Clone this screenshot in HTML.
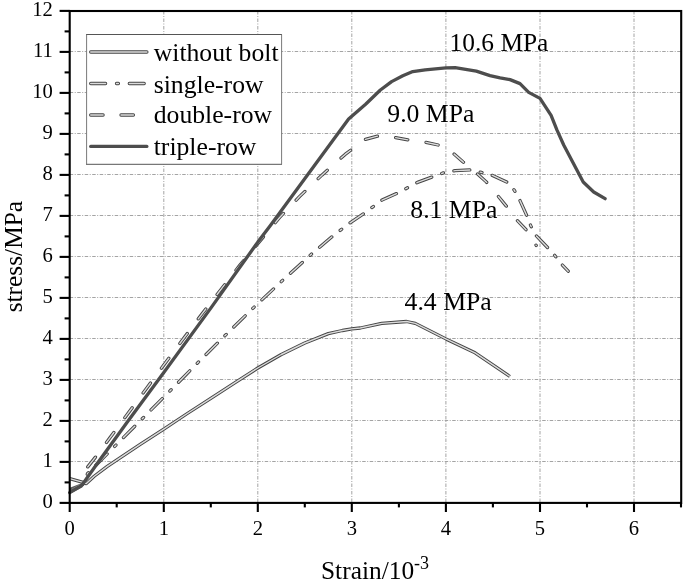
<!DOCTYPE html>
<html><head><meta charset="utf-8"><title>Stress-strain curves</title>
<style>
html,body{margin:0;padding:0;background:#fff;}
svg{display:block;}
text{font-family:"Liberation Serif","Times New Roman",serif;fill:#000;}
.tk{font-size:20.6px;}
.lb{font-size:25.4px;}
</style></head><body>
<svg width="685" height="582" viewBox="0 0 685 582">
<rect x="0" y="0" width="685" height="582" fill="#fff"/>

<g stroke="#a4a4a4" stroke-width="1" stroke-dasharray="3.5 1.5 1 1.5" fill="none">
<line x1="163.8" y1="11.0" x2="163.8" y2="502.9"/>
<line x1="257.8" y1="11.0" x2="257.8" y2="502.9"/>
<line x1="351.8" y1="11.0" x2="351.8" y2="502.9"/>
<line x1="445.9" y1="11.0" x2="445.9" y2="502.9"/>
<line x1="540.0" y1="11.0" x2="540.0" y2="502.9"/>
<line x1="634.0" y1="11.0" x2="634.0" y2="502.9"/>
<line x1="69.7" y1="461.5" x2="681.2" y2="461.5"/>
<line x1="69.7" y1="420.5" x2="681.2" y2="420.5"/>
<line x1="69.7" y1="379.5" x2="681.2" y2="379.5"/>
<line x1="69.7" y1="338.5" x2="681.2" y2="338.5"/>
<line x1="69.7" y1="297.5" x2="681.2" y2="297.5"/>
<line x1="69.7" y1="256.5" x2="681.2" y2="256.5"/>
<line x1="69.7" y1="215.5" x2="681.2" y2="215.5"/>
<line x1="69.7" y1="174.5" x2="681.2" y2="174.5"/>
<line x1="69.7" y1="133.5" x2="681.2" y2="133.5"/>
<line x1="69.7" y1="92.5" x2="681.2" y2="92.5"/>
<line x1="69.7" y1="51.5" x2="681.2" y2="51.5"/>
</g>
<g fill="none" stroke-linejoin="round">
<polygon points="69.7,493.9 69.7,487.7 81.5,483.2 82.4,487.3" fill="#5a5a5a" stroke="none"/>
<path d="M71.6,491.0 L80.5,485.7 M71.6,489.4 L80.0,484.7" stroke="#9a9a9a" stroke-width="0.8"/>
<polyline points="69.7,478.7 83.1,482.4 86.3,483.6 94.2,476.2 107.3,466.4 120.0,457.8 140.2,444.3 163.8,429.1 187.3,413.5 210.8,398.3 234.3,383.2 257.8,368.0 281.3,354.5 304.8,343.0 328.3,333.6 342.4,330.5 351.8,328.9 360.3,328.0 381.7,323.4 406.6,321.5 415.3,323.4 445.9,338.9 475.1,352.8 492.5,364.6 509.9,376.5" stroke="#454545" stroke-width="3.3"/>
<polyline points="69.7,478.7 83.1,482.4 86.3,483.6 94.2,476.2 107.3,466.4 120.0,457.8 140.2,444.3 163.8,429.1 187.3,413.5 210.8,398.3 234.3,383.2 257.8,368.0 281.3,354.5 304.8,343.0 328.3,333.6 342.4,330.5 351.8,328.9 360.3,328.0 381.7,323.4 406.6,321.5 415.3,323.4 445.9,338.9 475.1,352.8 492.5,364.6 509.9,376.5" stroke="#dcdcdc" stroke-width="1.4"/>
<polyline points="82.9,484.4 87.6,473.5 115.4,445.7 170.0,390.9 197.4,363.1 225.4,335.2 253.1,308.1 281.6,281.3 310.6,254.9 331.3,237.3 349.6,223.1 363.8,213.6 382.0,200.1 397.6,193.1 417.5,182.4 433.7,176.4 443.4,172.9 455.1,170.6 471.3,169.9 481.4,172.4 492.5,175.4 507.5,182.4 514.3,190.2 520.0,200.6 527.0,216.1 530.7,225.7 536.2,235.7 547.9,247.9 554.9,255.7 561.7,264.4 568.2,271.2" stroke="#454545" stroke-width="3.3" stroke-linecap="round" stroke-dasharray="16.0 10.58 1.9 10.577" stroke-dashoffset="15.51"/>
<polyline points="82.9,484.4 87.6,473.5 115.4,445.7 170.0,390.9 197.4,363.1 225.4,335.2 253.1,308.1 281.6,281.3 310.6,254.9 331.3,237.3 349.6,223.1 363.8,213.6 382.0,200.1 397.6,193.1 417.5,182.4 433.7,176.4 443.4,172.9 455.1,170.6 471.3,169.9 481.4,172.4 492.5,175.4 507.5,182.4 514.3,190.2 520.0,200.6 527.0,216.1 530.7,225.7 536.2,235.7 547.9,247.9 554.9,255.7 561.7,264.4 568.2,271.2" stroke="#dcdcdc" stroke-width="1.4" stroke-linecap="round" stroke-dasharray="16.0 10.58 1.9 10.577" stroke-dashoffset="15.51"/>
<polyline points="81.9,482.4 86.6,468.3 95.6,457.0 109.7,438.1 146.1,388.9 164.2,364.4 201.7,314.3 239.9,265.1 279.4,217.7 299.5,196.6 322.1,174.9 345.1,154.4 365.0,139.5 379.3,135.7 395.0,137.5 408.8,140.0 425.0,142.1 438.2,145.0 452.7,152.9 463.1,161.9 476.4,172.9 486.3,181.9 497.5,195.4 506.3,206.1 516.2,219.4 526.2,229.9 536.2,245.4" stroke="#454545" stroke-width="3.3" stroke-linecap="round" stroke-dasharray="12.4 18.386" stroke-dashoffset="14.07"/>
<polyline points="81.9,482.4 86.6,468.3 95.6,457.0 109.7,438.1 146.1,388.9 164.2,364.4 201.7,314.3 239.9,265.1 279.4,217.7 299.5,196.6 322.1,174.9 345.1,154.4 365.0,139.5 379.3,135.7 395.0,137.5 408.8,140.0 425.0,142.1 438.2,145.0 452.7,152.9 463.1,161.9 476.4,172.9 486.3,181.9 497.5,195.4 506.3,206.1 516.2,219.4 526.2,229.9 536.2,245.4" stroke="#dcdcdc" stroke-width="1.4" stroke-linecap="round" stroke-dasharray="12.4 18.386" stroke-dashoffset="14.07"/>
<polyline points="69.7,492.6 81.7,485.5 98.5,461.7 128.4,420.5 163.8,372.5 210.8,308.1 257.8,242.1 270.2,225.7 348.6,119.1 365.6,104.2 380.4,90.0 391.6,81.6 402.8,75.8 412.8,71.6 425.2,69.8 445.9,67.9 455.1,67.6 476.3,71.1 490.0,75.6 500.1,77.9 510.0,79.6 520.0,83.6 528.7,92.4 540.0,98.4 551.1,115.4 556.9,129.9 563.7,145.0 583.2,182.0 593.7,192.0 605.1,198.7" stroke="#4d4d4d" stroke-width="3.3" stroke-linecap="round"/>
</g>
<g stroke="#000" stroke-width="2.1" fill="none">
<rect x="69.7" y="11.0" width="611.5" height="491.9"/>
<line x1="59.6" y1="502.9" x2="69.7" y2="502.9"/>
<line x1="59.6" y1="461.9" x2="69.7" y2="461.9"/>
<line x1="59.6" y1="420.9" x2="69.7" y2="420.9"/>
<line x1="59.6" y1="379.9" x2="69.7" y2="379.9"/>
<line x1="59.6" y1="338.9" x2="69.7" y2="338.9"/>
<line x1="59.6" y1="297.9" x2="69.7" y2="297.9"/>
<line x1="59.6" y1="256.9" x2="69.7" y2="256.9"/>
<line x1="59.6" y1="215.9" x2="69.7" y2="215.9"/>
<line x1="59.6" y1="174.9" x2="69.7" y2="174.9"/>
<line x1="59.6" y1="133.9" x2="69.7" y2="133.9"/>
<line x1="59.6" y1="92.9" x2="69.7" y2="92.9"/>
<line x1="59.6" y1="51.9" x2="69.7" y2="51.9"/>
<line x1="59.6" y1="10.9" x2="69.7" y2="10.9"/>
<line x1="64.6" y1="482.4" x2="69.7" y2="482.4"/>
<line x1="64.6" y1="441.4" x2="69.7" y2="441.4"/>
<line x1="64.6" y1="400.4" x2="69.7" y2="400.4"/>
<line x1="64.6" y1="359.4" x2="69.7" y2="359.4"/>
<line x1="64.6" y1="318.4" x2="69.7" y2="318.4"/>
<line x1="64.6" y1="277.4" x2="69.7" y2="277.4"/>
<line x1="64.6" y1="236.4" x2="69.7" y2="236.4"/>
<line x1="64.6" y1="195.4" x2="69.7" y2="195.4"/>
<line x1="64.6" y1="154.4" x2="69.7" y2="154.4"/>
<line x1="64.6" y1="113.4" x2="69.7" y2="113.4"/>
<line x1="64.6" y1="72.4" x2="69.7" y2="72.4"/>
<line x1="64.6" y1="31.4" x2="69.7" y2="31.4"/>
<line x1="69.7" y1="502.9" x2="69.7" y2="512.0"/>
<line x1="163.8" y1="502.9" x2="163.8" y2="512.0"/>
<line x1="257.8" y1="502.9" x2="257.8" y2="512.0"/>
<line x1="351.8" y1="502.9" x2="351.8" y2="512.0"/>
<line x1="445.9" y1="502.9" x2="445.9" y2="512.0"/>
<line x1="540.0" y1="502.9" x2="540.0" y2="512.0"/>
<line x1="634.0" y1="502.9" x2="634.0" y2="512.0"/>
<line x1="116.7" y1="502.9" x2="116.7" y2="507.4"/>
<line x1="210.8" y1="502.9" x2="210.8" y2="507.4"/>
<line x1="304.8" y1="502.9" x2="304.8" y2="507.4"/>
<line x1="398.9" y1="502.9" x2="398.9" y2="507.4"/>
<line x1="492.9" y1="502.9" x2="492.9" y2="507.4"/>
<line x1="587.0" y1="502.9" x2="587.0" y2="507.4"/>
<line x1="681.0" y1="502.9" x2="681.0" y2="507.4"/>
</g>
<g class="tk" text-anchor="end">
<text x="52.9" y="508.2">0</text>
<text x="52.9" y="467.2">1</text>
<text x="52.9" y="426.2">2</text>
<text x="52.9" y="385.2">3</text>
<text x="52.9" y="344.2">4</text>
<text x="52.9" y="303.2">5</text>
<text x="52.9" y="262.2">6</text>
<text x="52.9" y="221.2">7</text>
<text x="52.9" y="180.2">8</text>
<text x="52.9" y="139.2">9</text>
<text x="52.9" y="98.2">10</text>
<text x="52.9" y="57.2">11</text>
<text x="52.9" y="16.2">12</text>
</g>
<g class="tk" text-anchor="middle">
<text x="69.7" y="535">0</text>
<text x="163.8" y="535">1</text>
<text x="257.8" y="535">2</text>
<text x="351.8" y="535">3</text>
<text x="445.9" y="535">4</text>
<text x="540.0" y="535">5</text>
<text x="634.0" y="535">6</text>
</g>
<text class="lb" text-anchor="middle" transform="translate(22.1,256.6) rotate(-90)">stress/MPa</text>
<text class="lb" x="321" y="579">Strain/10<tspan dy="-10" font-size="18px">-3</tspan></text>
<text class="lb" x="449.6" y="50.9">10.6 MPa</text>
<text class="lb" x="387.3" y="122.3" style="font-size:25.7px">9.0 MPa</text>
<text class="lb" x="410.3" y="218.3" style="font-size:25.7px">8.1 MPa</text>
<text class="lb" x="404.6" y="309.8" style="font-size:25.7px">4.4 MPa</text>
<rect x="86.5" y="34.5" width="195" height="129.7" fill="#fff" stroke="none"/>
<path d="M86,34.5 H282 M86,164.3 H282" stroke="#555" stroke-width="1" fill="none"/>
<path d="M86.6,34.5 V164.3 M281.6,34.5 V164.3" stroke="#7a7a7a" stroke-width="1" fill="none"/>
<g fill="none" stroke-linecap="round">
<line x1="90.7" y1="52.00" x2="146.9" y2="52.00" stroke="#454545" stroke-width="3.3"/>
<line x1="90.7" y1="52.00" x2="146.9" y2="52.00" stroke="#dcdcdc" stroke-width="1.4"/>
<line x1="90.7" y1="83.50" x2="146.9" y2="83.50" stroke="#454545" stroke-width="3.3" stroke-dasharray="14.9 10.9 1.9 10.9"/>
<line x1="90.7" y1="83.50" x2="146.9" y2="83.50" stroke="#dcdcdc" stroke-width="1.4" stroke-dasharray="14.9 10.9 1.9 10.9"/>
<line x1="90.7" y1="115.00" x2="146.9" y2="115.00" stroke="#454545" stroke-width="3.3" stroke-dasharray="12.4 17.9"/>
<line x1="90.7" y1="115.00" x2="146.9" y2="115.00" stroke="#dcdcdc" stroke-width="1.4" stroke-dasharray="12.4 17.9"/>
<line x1="90.7" y1="146.40" x2="146.9" y2="146.40" stroke="#4d4d4d" stroke-width="3.2"/>
</g>
<text class="lb" x="153.7" y="61.1" style="font-size:25.7px">without bolt</text>
<text class="lb" x="153.7" y="92.6" style="font-size:25.7px">single-row</text>
<text class="lb" x="153.7" y="123.4" style="font-size:25.7px">double-row</text>
<text class="lb" x="153.7" y="154.9" style="font-size:25.7px">triple-row</text>
</svg></body></html>
